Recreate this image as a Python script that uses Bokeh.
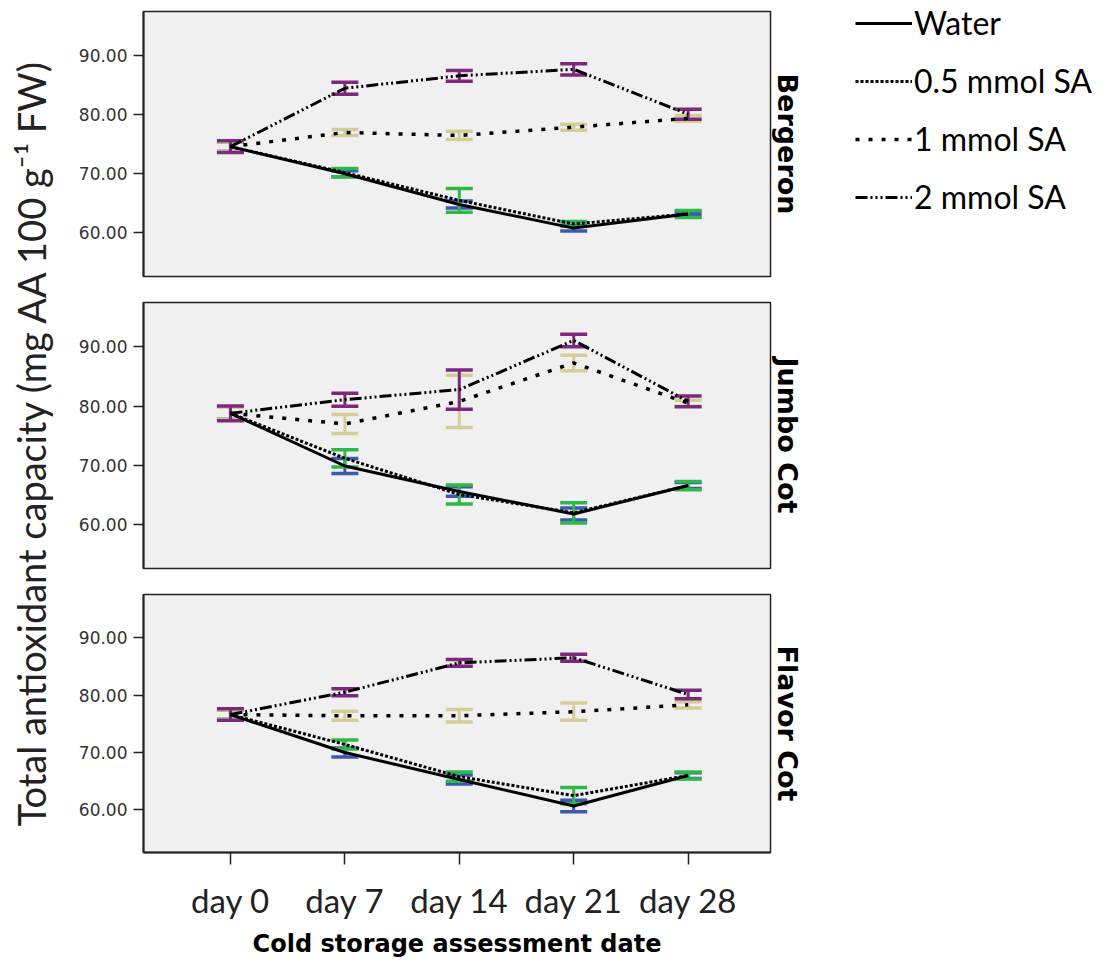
import math
from bokeh.plotting import figure
from bokeh.models import (Range1d, FixedTicker, PrintfTickFormatter, Whisker, TeeHead,
                          ColumnDataSource, Title, Legend, LegendItem, Label)
from bokeh.layouts import row, column
from bokeh.embed import file_html
from bokeh.resources import INLINE

days = ["day 0", "day 7", "day 14", "day 21", "day 28"]
cultivars = ["Bergeron", "Jumbo Cot", "Flavor Cot"]
treatments = ["Water", "0.5 mmol SA", "1 mmol SA", "2 mmol SA"]

# Bergeron
berg_water = [74.6, 70.0, 64.8, 60.8, 63.2]
berg_sa05 = [74.6, 70.2, 65.5, 61.5, 63.2]
berg_sa1 = [74.6, 77.0, 76.5, 77.9, 79.4]
berg_sa2 = [74.6, 84.5, 86.6, 87.7, 80.1]
berg_water_err = [0.8, 0.5, 0.6, 0.5, 0.3]
berg_sa05_err = [0.8, 0.7, 2.0, 0.4, 0.6]
berg_sa1_err = [0.8, 0.5, 0.7, 0.5, 0.5]
berg_sa2_err = [1.0, 1.0, 0.9, 0.95, 0.85]

# Jumbo Cot
jumbo_water = [78.8, 69.9, 65.6, 61.8, 66.6]
jumbo_sa05 = [78.8, 71.2, 65.1, 62.0, 66.6]
jumbo_sa1 = [78.8, 77.0, 80.8, 87.3, 80.5]
jumbo_sa2 = [78.8, 81.1, 82.8, 91.1, 80.8]
jumbo_water_err = [1.0, 1.25, 0.8, 1.0, 0.5]
jumbo_sa05_err = [1.0, 1.45, 1.6, 1.7, 0.7]
jumbo_sa1_err = [1.0, 1.6, 4.4, 1.3, 0.5]
jumbo_sa2_err = [1.25, 1.1, 3.3, 1.05, 0.9]

# Flavor Cot
flavor_water = [76.6, 70.0, 65.3, 60.7, 66.0]
flavor_sa05 = [76.6, 71.4, 65.8, 62.5, 66.0]
flavor_sa1 = [76.6, 76.4, 76.4, 77.1, 78.3]
flavor_sa2 = [76.6, 80.5, 85.6, 86.5, 80.1]
flavor_water_err = [0.8, 0.8, 0.8, 1.0, 0.5]
flavor_sa05_err = [0.8, 0.8, 0.8, 1.4, 0.6]
flavor_sa1_err = [0.8, 0.8, 1.1, 1.5, 0.55]
flavor_sa2_err = [1.0, 0.6, 0.6, 0.6, 0.75]

bar_colors = ["#3e58ac", "#2eb848", "#d3ce97", "#7c287d"]
line_dashes = ["solid", "3 2", "4 9", "12 3 2 3 2 3 2 3"]
line_widths = [3, 3, 3.5, 3]

panel_data = [
    ([berg_water, berg_sa05, berg_sa1, berg_sa2],
     [berg_water_err, berg_sa05_err, berg_sa1_err, berg_sa2_err]),
    ([jumbo_water, jumbo_sa05, jumbo_sa1, jumbo_sa2],
     [jumbo_water_err, jumbo_sa05_err, jumbo_sa1_err, jumbo_sa2_err]),
    ([flavor_water, flavor_sa05, flavor_sa1, flavor_sa2],
     [flavor_water_err, flavor_sa05_err, flavor_sa1_err, flavor_sa2_err]),
]

TEXT = "#222222"


def make_panel(name, means, errs, height, top, bottom, show_x):
    p = figure(width=752, height=height,
               x_range=Range1d(-0.76, 4.72), y_range=Range1d(52.6, 97.5),
               output_backend="svg", toolbar_location=None, title_location=None,
               x_axis_location="below" if show_x else None, y_axis_location="left",
               min_border_left=75, min_border_right=50,
               min_border_top=top, min_border_bottom=bottom)
    p.background_fill_color = "#f0f0f0"
    p.border_fill_color = "white"
    p.outline_line_color = "#222222"
    p.outline_line_width = 1.5
    p.grid.visible = False

    xs = list(range(len(days)))
    # error bars
    for mv, ev, col in zip(means, errs, bar_colors):
        src = ColumnDataSource(dict(x=xs,
                                    lo=[m - e for m, e in zip(mv, ev)],
                                    hi=[m + e for m, e in zip(mv, ev)]))
        w = Whisker(base="x", lower="lo", upper="hi", source=src, dimension="height",
                    line_color=col, line_width=3, level="underlay",
                    upper_head=TeeHead(size=27, line_color=col, line_width=3.5),
                    lower_head=TeeHead(size=27, line_color=col, line_width=3.5))
        p.add_layout(w)
    # lines
    for mv, dash, lw in zip(means, line_dashes, line_widths):
        p.line(x=xs, y=mv, line_color="black", line_width=lw, line_dash=dash)

    yax = p.yaxis[0]
    yax.ticker = FixedTicker(ticks=[60, 70, 80, 90])
    yax.formatter = PrintfTickFormatter(format="%.2f")
    yax.major_tick_out = 10
    yax.major_tick_in = 0
    yax.minor_tick_line_color = None
    yax.major_tick_line_width = 1.5
    yax.major_tick_line_color = "#222222"
    yax.axis_line_width = 2
    yax.axis_line_color = "#222222"
    yax.major_label_standoff = 6
    yax.major_label_text_font = "DejaVu Sans"
    yax.major_label_text_font_size = "17px"
    yax.major_label_text_color = "#333333"

    if show_x:
        xax = p.xaxis[0]
        xax.ticker = FixedTicker(ticks=xs)
        xax.major_label_overrides = {i: d for i, d in enumerate(days)}
        xax.major_tick_out = 12
        xax.major_tick_in = 0
        xax.minor_tick_line_color = None
        xax.major_tick_line_width = 1.5
        xax.major_tick_line_color = "#222222"
        xax.axis_line_width = 2
        xax.axis_line_color = "#222222"
        xax.major_label_standoff = 15
        xax.major_label_text_font = "Lato"
        xax.major_label_text_font_size = "33px"
        xax.major_label_text_color = TEXT
        xax.axis_label = "Cold storage assessment date"
        xax.axis_label_text_font = "DejaVu Sans"
        xax.axis_label_text_font_style = "bold"
        xax.axis_label_text_font_size = "24px"
        xax.axis_label_text_color = "black"
        xax.axis_label_standoff = 7

    t = Title(text=name, align="center", text_font="DejaVu Sans", text_font_style="bold",
              text_font_size="27px", text_color="black", standoff=3)
    p.add_layout(t, "right")
    return p


p1 = make_panel(cultivars[0], *panel_data[0], height=289, top=11, bottom=13, show_x=False)
p2 = make_panel(cultivars[1], *panel_data[1], height=292, top=13, bottom=13, show_x=False)
p3 = make_panel(cultivars[2], *panel_data[2], height=379, top=13, bottom=102, show_x=True)
total_h = 289 + 292 + 379

# y axis title spanning all panels
yt = figure(width=68, height=total_h, output_backend="svg", toolbar_location=None,
            title_location=None, x_axis_location=None, y_axis_location=None,
            min_border=0, outline_line_color=None)
yt.grid.visible = False
yt.add_layout(Label(x=30, y=total_h - 442, x_units="screen", y_units="screen",
                    text="Total antioxidant capacity (mg AA 100 g\u207b\u00b9 FW)",
                    angle=math.pi / 2, text_align="center", text_baseline="middle",
                    text_font="Lato", text_font_size="38px", text_color=TEXT))

# legend
lf = figure(width=280, height=260, output_backend="svg", toolbar_location=None,
            title_location=None, x_axis_location=None, y_axis_location=None,
            x_range=Range1d(0, 1), y_range=Range1d(0, 1),
            min_border_left=35, min_border_top=3, min_border_right=0, min_border_bottom=0,
            outline_line_color=None)
lf.grid.visible = False
items = []
for name, dash, lw in zip(treatments, line_dashes, line_widths):
    # off-screen sample renderer used only for the legend glyph
    r = lf.line(x=[5, 6], y=[5, 6], line_color="black", line_width=lw, line_dash=dash)
    items.append(LegendItem(label=name, renderers=[r]))
leg = Legend(items=items, location="top_left", glyph_width=57, glyph_height=38,
             spacing=19, padding=0, margin=0, border_line_color=None,
             background_fill_alpha=0, label_standoff=2, label_text_font="Lato",
             label_text_font_size="32px", label_text_color="black")
lf.add_layout(leg)

layout = row(yt, column(p1, p2, p3), lf)
open("out.html", "w").write(file_html(layout, INLINE))
